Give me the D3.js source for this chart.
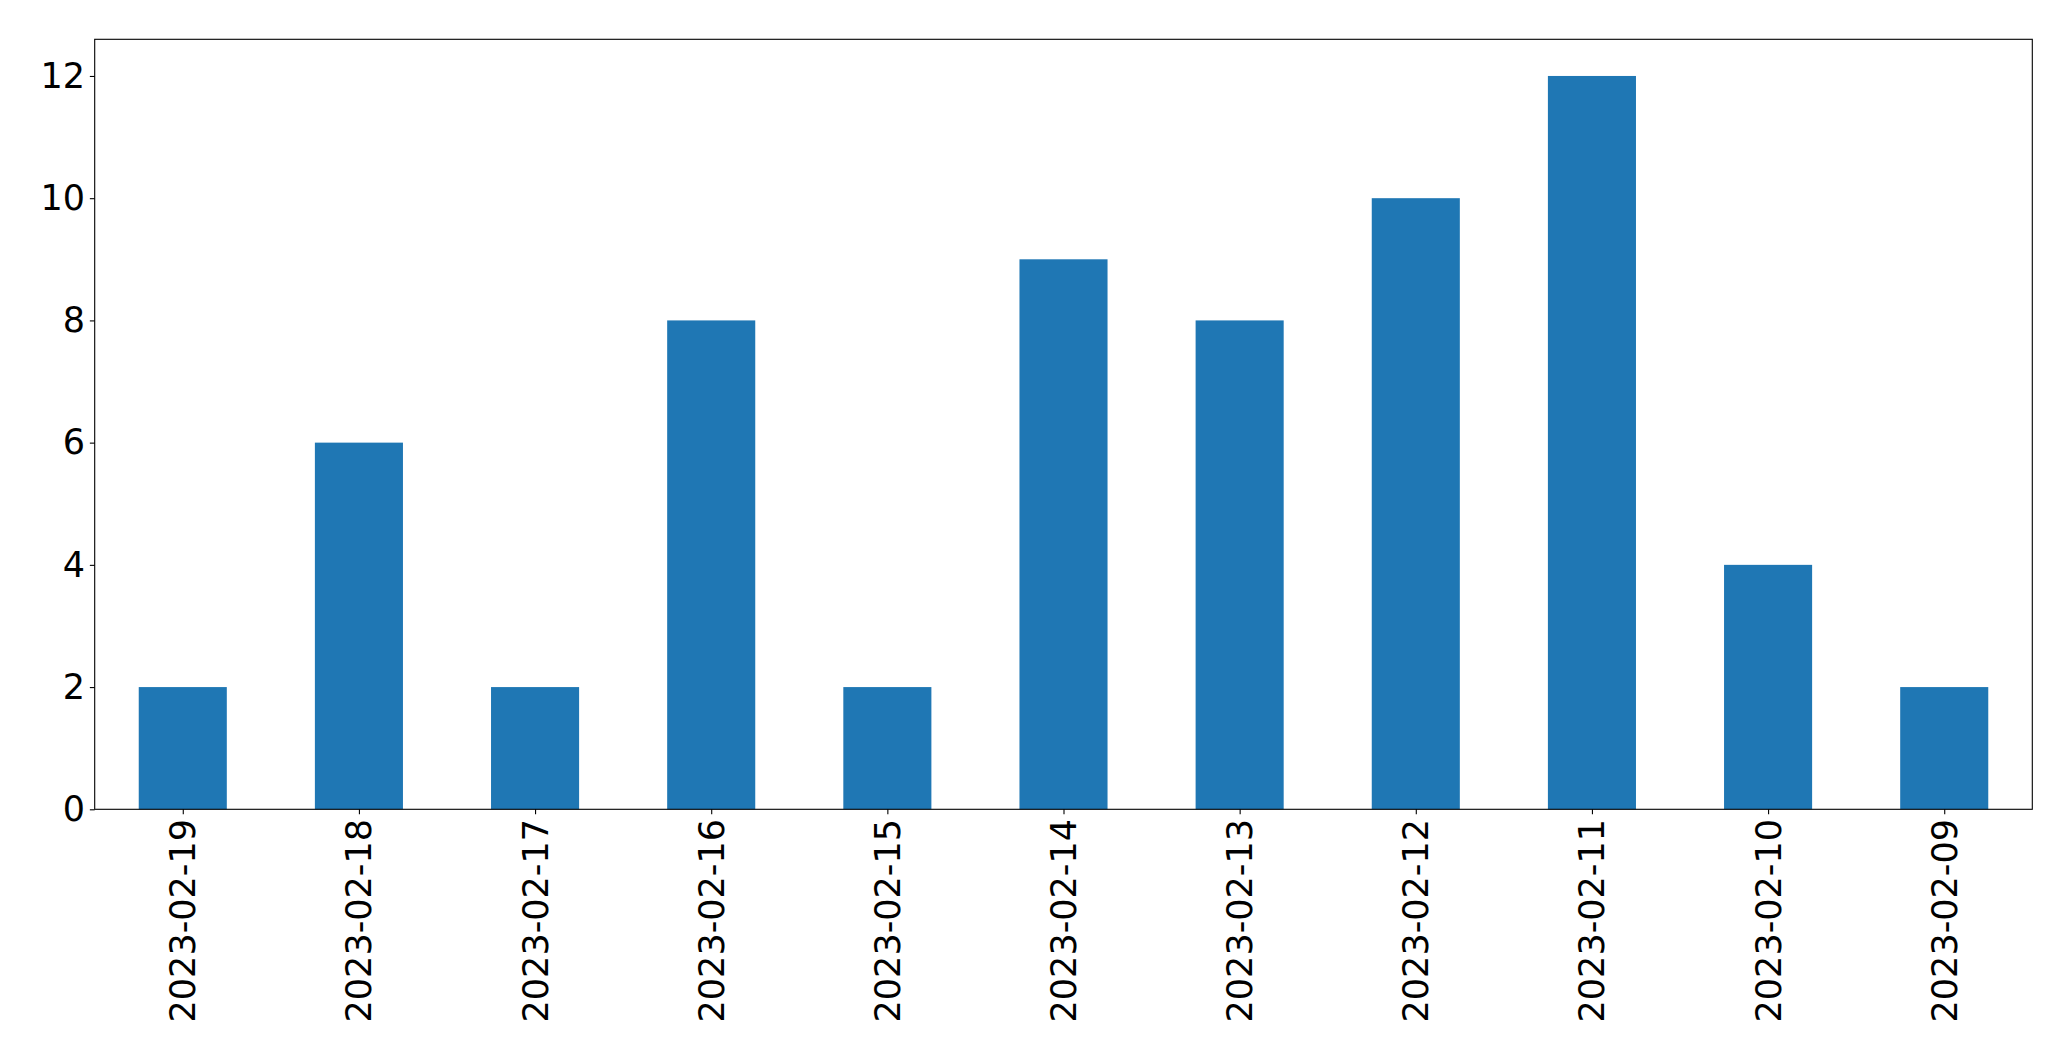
<!DOCTYPE html>
<html>
<head>
<meta charset="utf-8">
<script src="https://cdn.jsdelivr.net/npm/d3@7"></script>
<style>
  html, body { margin: 0; padding: 0; background: #fff; }
  svg { display: block; }
  text { font-family: "DejaVu Sans", sans-serif; fill: #000; }
</style>
</head>
<body>
<svg id="chart" width="2071" height="1061"></svg>
<script>
const categories = ["2023-02-19","2023-02-18","2023-02-17","2023-02-16","2023-02-15","2023-02-14","2023-02-13","2023-02-12","2023-02-11","2023-02-10","2023-02-09"];
const values = [2, 6, 2, 8, 2, 9, 8, 10, 12, 4, 2];
const yTicks = [0, 2, 4, 6, 8, 10, 12];

const W = 2071, H = 1061;
const m = { left: 94.7, right: 2032.3, top: 39.3, bottom: 809.3 };
const svg = d3.select("#chart");

const x = d3.scaleLinear().domain([-0.5, categories.length - 0.5]).range([m.left, m.right]);
const y = d3.scaleLinear().domain([0, 12.6]).range([m.bottom, m.top]);
const fs = 35;

svg.append("g").selectAll("rect").data(values).join("rect")
  .attr("x", (d, i) => x(i - 0.25))
  .attr("width", (d, i) => x(i + 0.25) - x(i - 0.25))
  .attr("y", d => y(d))
  .attr("height", d => y(0) - y(d))
  .attr("fill", "#1f77b4");

// y axis
const yAxis = d3.axisLeft(y).tickValues(yTicks).tickSize(4.86).tickPadding(4.86).tickFormat(d3.format("d"));
const gy = svg.append("g").attr("transform", `translate(${m.left},0)`).call(yAxis);
gy.select(".domain").remove();
gy.selectAll(".tick line").attr("stroke", "#000").attr("stroke-width", 1.1);
gy.selectAll(".tick text").attr("font-size", fs).attr("font-family", "DejaVu Sans").attr("fill", "#000");

// x axis
const xAxis = d3.axisBottom(x).tickValues(d3.range(categories.length)).tickFormat(i => categories[i]).tickSize(4.86).tickPadding(4.86);
const gx = svg.append("g").attr("transform", `translate(0,${m.bottom})`).call(xAxis);
gx.select(".domain").remove();
gx.selectAll(".tick line").attr("stroke", "#000").attr("stroke-width", 1.1);
gx.selectAll(".tick text")
  .attr("font-size", fs).attr("font-family", "DejaVu Sans").attr("fill", "#000")
  .attr("transform", null)
  .attr("y", 0).attr("dy", null)
  .attr("text-anchor", "end")
  .attr("dominant-baseline", "central")
  .attr("transform", "translate(0," + (4.86 + 4.86) + ") rotate(-90)");

// frame
svg.append("rect")
  .attr("x", m.left).attr("y", m.top)
  .attr("width", m.right - m.left).attr("height", m.bottom - m.top)
  .attr("fill", "none").attr("stroke", "#000").attr("stroke-width", 1.1);
</script>
</body>
</html>
